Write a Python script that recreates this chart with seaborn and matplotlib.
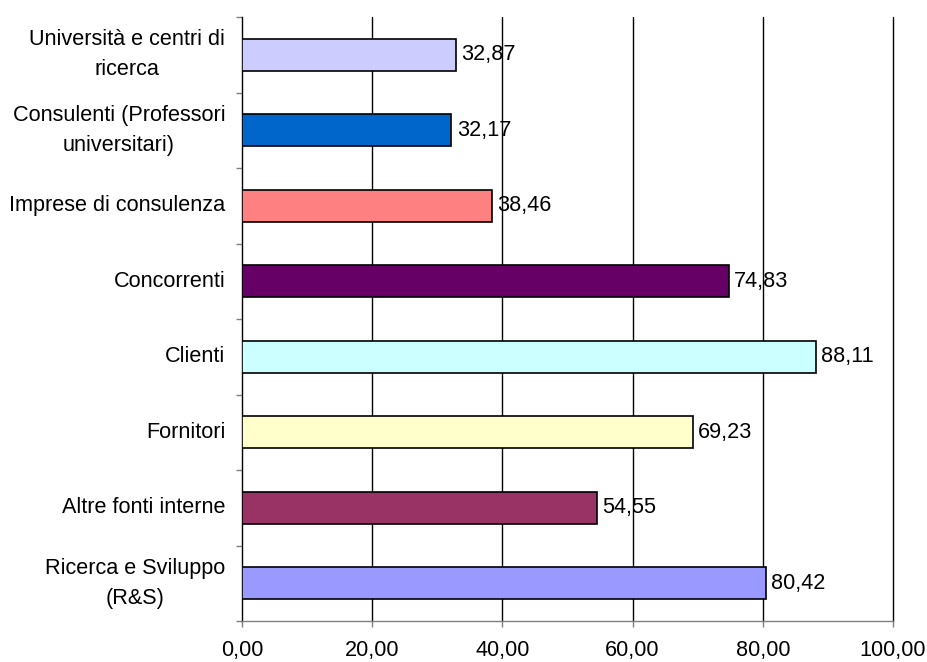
import matplotlib
matplotlib.use("Agg")
import matplotlib.pyplot as plt
from matplotlib.ticker import FixedLocator
import seaborn as sns
import pandas as pd

categories = [
    "Università e centri di\nricerca",
    "Consulenti (Professori\nuniversitari)",
    "Imprese di consulenza",
    "Concorrenti",
    "Clienti",
    "Fornitori",
    "Altre fonti interne",
    "Ricerca e Sviluppo\n(R&S)",
]
values = [32.87, 32.17, 38.46, 74.83, 88.11, 69.23, 54.55, 80.42]
colors = ["#CCCCFF", "#0066CC", "#FF8080", "#660066",
          "#CCFFFF", "#FFFFCC", "#993366", "#9999FF"]
x_ticks = [0, 20, 40, 60, 80, 100]

sns.set_theme(style="white")
plt.rcParams["font.family"] = ["Liberation Sans", "DejaVu Sans"]
plt.rcParams["text.color"] = "black"

FS = 15.6

df = pd.DataFrame({"fonte": categories, "valore": values})

fig = plt.figure(figsize=(9.27, 6.62), dpi=100)
ax = fig.add_axes([242 / 927, 1 - 621 / 662, (893 - 242) / 927, (621 - 17) / 662])

sns.barplot(data=df, x="valore", y="fonte", hue="fonte", palette=colors,
            order=categories, hue_order=categories, legend=False,
            width=0.42, edgecolor="black", linewidth=1.2, saturation=1,
            ax=ax, zorder=3)

ax.set_xlim(0, 100)
ax.set_ylim(len(categories) - 0.5, -0.5)
ax.set_xlabel("")
ax.set_ylabel("")

# vertical gridlines
ax.set_xticks(x_ticks)
ax.set_xticklabels([f"{t:.2f}".replace(".", ",") for t in x_ticks], fontsize=FS)
for t in x_ticks[1:]:
    ax.axvline(t, color="black", linewidth=1, zorder=1, clip_on=False)

# category labels with tick marks between categories
ax.set_yticks(range(len(categories)))
ax.set_yticklabels(categories, fontsize=FS)
for lab in ax.get_yticklabels():
    lab.set_multialignment("center")
    lab.set_linespacing(1.55)
    lab.set_verticalalignment("center")
ax.yaxis.set_minor_locator(FixedLocator([i - 0.5 for i in range(len(categories) + 1)]))
ax.tick_params(axis="y", which="major", length=0, pad=12, labelcolor="black")
ax.tick_params(axis="y", which="minor", length=4.5, width=1, color="#808080", left=True)
ax.tick_params(axis="x", which="major", length=4.5, width=1, color="#808080",
               bottom=True, pad=9, labelcolor="black")

for s in ["top", "right"]:
    ax.spines[s].set_visible(False)
ax.spines["left"].set_color("black")
ax.spines["left"].set_linewidth(1)
ax.spines["bottom"].set_color("#808080")
ax.spines["bottom"].set_linewidth(1)

# value labels
for i, v in enumerate(values):
    ax.text(v + 0.8, i, f"{v:.2f}".replace(".", ","), va="center", ha="left",
            fontsize=FS, color="black", zorder=4)

fig.savefig("out.png", dpi=100)
